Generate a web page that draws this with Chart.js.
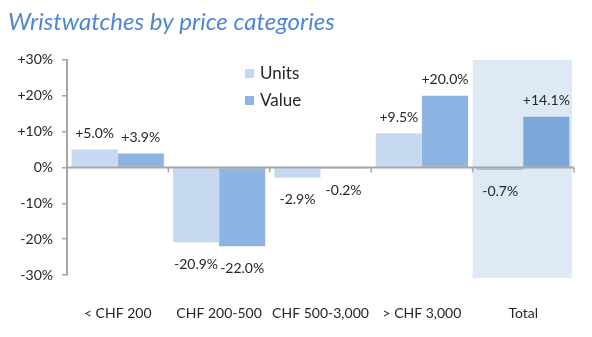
<!DOCTYPE html>
<html>
<head>
<meta charset="utf-8">
<script src="https://cdn.jsdelivr.net/npm/chart.js@4.4.1/dist/chart.umd.min.js"></script>
<style>
  html, body { margin: 0; padding: 0; background: #ffffff; }
  #wrap { width: 592px; height: 337px; position: relative; }
</style>
</head>
<body>
<div id="wrap"><canvas id="c" width="592" height="337"></canvas></div>
<script>
const categories = ['< CHF 200', 'CHF 200-500', 'CHF 500-3,000', '> CHF 3,000', 'Total'];
const unitsValues = [5.0, -20.9, -2.9, 9.5, -0.7];
const valueValues = [3.9, -22.0, -0.2, 20.0, 14.1];
const yTickValues = [-30, -20, -10, 0, 10, 20, 30];
const seriesNames = ['Units', 'Value'];
const titleText = 'Wristwatches by price categories';

const FONT = 'Lato, "Open Sans", sans-serif';
const unitsColor = '#c6d9f1';
const valueColor = '#8db4e2';
const totalUnitsColor = '#a3c3e9';
const totalValueColor = '#7ba7db';
const axisColor = '#a6a6a6';
const textColor = '#262626';

function fmtTick(v) {
  return (v > 0 ? '+' : '') + v + '%';
}
function fmtLabel(v) {
  return (v > 0 ? '+' : '') + v.toFixed(1) + '%';
}

const decorPlugin = {
  id: 'decor',
  beforeDraw(chart) {
    const { ctx, chartArea, scales } = chart;
    const x = scales.x;
    const last = categories.length - 1;
    const w = x.getPixelForValue(1) - x.getPixelForValue(0);
    const cx = x.getPixelForValue(last);
    ctx.save();
    ctx.fillStyle = '#ddeaf6';
    ctx.fillRect(cx - w / 2, chartArea.top, w - 2, chartArea.bottom - chartArea.top + 3);
    ctx.restore();
  },
  afterDatasetsDraw(chart) {
    const { ctx, chartArea, scales } = chart;
    const x = scales.x, y = scales.y;
    const y0 = y.getPixelForValue(0);
    const w = x.getPixelForValue(1) - x.getPixelForValue(0);
    ctx.save();
    ctx.strokeStyle = axisColor;
    ctx.lineWidth = 2;
    ctx.beginPath();
    ctx.moveTo(chartArea.left, y0);
    ctx.lineTo(chartArea.right, y0);
    ctx.stroke();
    ctx.lineWidth = 1.5;
    for (let i = 0; i < categories.length; i++) {
      const bx = x.getPixelForValue(i) + w / 2;
      ctx.beginPath();
      ctx.moveTo(bx, y0);
      ctx.lineTo(bx, y0 + 5);
      ctx.stroke();
    }
    ctx.fillStyle = textColor;
    ctx.font = '14px ' + FONT;
    ctx.textAlign = 'center';
    ctx.textBaseline = 'middle';
    chart.data.datasets.forEach((ds, di) => {
      const meta = chart.getDatasetMeta(di);
      meta.data.forEach((bar, i) => {
        const v = ds.data[i];
        const py = y.getPixelForValue(v);
        const ty = v >= 0 ? py - 16 : py + 22;
        ctx.fillText(fmtLabel(v), bar.x, ty);
      });
    });
    ctx.font = '17px ' + FONT;
    ctx.textAlign = 'left';
    const lx = chartArea.left + 178;
    const ly = [73, 100];
    chart.data.datasets.forEach((ds, di) => {
      ctx.fillStyle = di === 0 ? unitsColor : valueColor;
      ctx.fillRect(lx, ly[di] - 4, 9, 9);
      ctx.fillStyle = textColor;
      ctx.fillText(ds.label, lx + 15, ly[di] + 1);
    });
    ctx.restore();
  }
};

new Chart(document.getElementById('c'), {
  type: 'bar',
  data: {
    labels: categories,
    datasets: [
      {
        label: seriesNames[0],
        data: unitsValues,
        backgroundColor: unitsValues.map((v, i) => i === categories.length - 1 ? totalUnitsColor : unitsColor),
        categoryPercentage: 0.91,
        barPercentage: 1.0,
        borderWidth: 0
      },
      {
        label: seriesNames[1],
        data: valueValues,
        backgroundColor: valueValues.map((v, i) => i === categories.length - 1 ? totalValueColor : valueColor),
        categoryPercentage: 0.91,
        barPercentage: 1.0,
        borderWidth: 0
      }
    ]
  },
  options: {
    responsive: false,
    animation: false,
    devicePixelRatio: 1,
    layout: { padding: { left: 8, right: 18, top: 0, bottom: 0 } },
    plugins: {
      legend: { display: false },
      tooltip: { enabled: false },
      title: {
        display: true,
        text: titleText,
        align: 'start',
        color: '#4f87d6',
        font: { family: FONT, size: 24, style: 'italic', weight: 'normal' },
        padding: { top: 8, bottom: 23 }
      }
    },
    scales: {
      x: {
        afterFit(scale) { scale.height = 62; },
        grid: { display: false },
        border: { display: false },
        ticks: { color: textColor, font: { family: FONT, size: 14 }, padding: 22, maxRotation: 0, autoSkip: false }
      },
      y: {
        min: -30,
        max: 30,
        afterBuildTicks(scale) { scale.ticks = yTickValues.map(v => ({ value: v })); },
        afterFit(scale) { scale.width = 59; },
        grid: { drawOnChartArea: false, tickLength: 5, tickColor: axisColor, lineWidth: 1.5 },
        border: { display: true, color: axisColor, width: 2 },
        ticks: { color: textColor, font: { family: FONT, size: 14 }, padding: 9, callback: (v) => fmtTick(v) }
      }
    }
  },
  plugins: [decorPlugin]
});
</script>
</body>
</html>
